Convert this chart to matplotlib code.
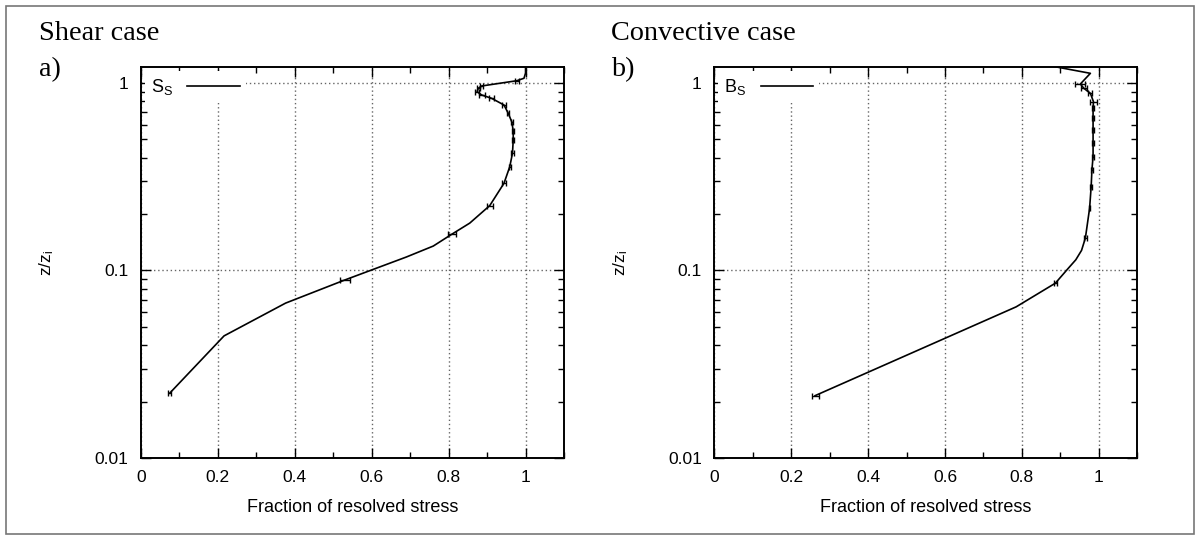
import numpy as np
import matplotlib
matplotlib.use("Agg")
import matplotlib.pyplot as plt
from matplotlib.patches import Rectangle
from matplotlib.ticker import MultipleLocator, LogLocator, NullFormatter

plt.rcParams['font.family'] = ['Liberation Sans', 'DejaVu Sans']
plt.rcParams['mathtext.default'] = 'regular'

# shear case (S_S): height z/zi, fraction of resolved stress, half-width of error bar
shear_z = [0.0222, 0.0448, 0.067, 0.089, 0.118, 0.135, 0.156, 0.179, 0.222, 0.292,
           0.358, 0.422, 0.497, 0.557, 0.622, 0.689, 0.763, 0.828, 0.863, 0.899,
           0.937, 0.964, 1.028, 1.06, 1.13, 1.25]
shear_frac = [0.075, 0.216, 0.376, 0.530, 0.690, 0.760, 0.808, 0.855, 0.907, 0.944,
              0.959, 0.966, 0.968, 0.968, 0.964, 0.955, 0.944, 0.912, 0.886, 0.874,
              0.877, 0.886, 0.977, 0.996, 1.0, 1.0]
shear_err = [0.004, 0.0, 0.0, 0.013, 0.0, 0.0, 0.010, 0.0, 0.008, 0.004,
             0.003, 0.003, 0.003, 0.003, 0.003, 0.003, 0.004, 0.006, 0.008, 0.006,
             0.004, 0.004, 0.005, 0.0, 0.0, 0.0]

# convective case (B_S)
conv_z = [0.0215, 0.064, 0.0856, 0.103, 0.114, 0.128, 0.149, 0.215, 0.28, 0.344,
          0.405, 0.48, 0.56, 0.65, 0.733, 0.795, 0.881, 0.937, 0.988, 1.126, 1.25]
conv_frac = [0.262, 0.785, 0.887, 0.921, 0.940, 0.955, 0.965, 0.976, 0.980, 0.982,
             0.985, 0.985, 0.985, 0.985, 0.985, 0.986, 0.978, 0.961, 0.952, 0.978, 0.86]
conv_err = [0.009, 0.0, 0.003, 0.0, 0.0, 0.0, 0.003, 0.002, 0.003, 0.003,
            0.003, 0.003, 0.003, 0.003, 0.003, 0.008, 0.005, 0.008, 0.013, 0.0, 0.0]

titles = ["Shear case", "Convective case"]
panels = ["a)", "b)"]
labels = ["S$_S$", "B$_S$"]
xticks = [0, 0.2, 0.4, 0.6, 0.8, 1.0]
xticklabels = ["0", "0.2", "0.4", "0.6", "0.8", "1"]
yticks = [0.01, 0.1, 1]
yticklabels = ["0.01", "0.1", "1"]

fig = plt.figure(figsize=(11.99, 5.39), dpi=100)
fig.add_artist(Rectangle((5.5 / 1199, 5.5 / 539), 1188 / 1199, 528 / 539,
                         transform=fig.transFigure, fill=False,
                         edgecolor='#777777', linewidth=1.2))

data = [(shear_z, shear_frac, shear_err), (conv_z, conv_frac, conv_err)]
lefts = [141 / 1199, 714.3 / 1199]
text_x = [39 / 1199, 611 / 1199]

for i, (z, frac, err) in enumerate(data):
    ax = fig.add_axes([lefts[i], 81 / 539, 423 / 1199, 391 / 539])
    z, frac, err = np.array(z), np.array(frac), np.array(err)
    ax.plot(frac, z, color='black', linewidth=1.2, label=labels[i])
    # only points that carry an error bar
    m = err > 0
    ax.errorbar(frac[m], z[m], xerr=err[m], fmt='none', ecolor='black',
                elinewidth=1.0, capsize=2.2, capthick=1.0)
    ax.set_yscale('log')
    ax.set_xlim(0, 1.1)
    ax.set_ylim(0.01, 1.217)

    ax.set_xticks(xticks)
    ax.set_xticklabels(xticklabels)
    ax.xaxis.set_minor_locator(MultipleLocator(0.1))
    ax.set_yticks(yticks)
    ax.set_yticklabels(yticklabels)
    ax.yaxis.set_minor_locator(LogLocator(base=10, subs=np.arange(2, 10)))
    ax.yaxis.set_minor_formatter(NullFormatter())
    ax.tick_params(which='both', direction='in', top=True, right=True,
                   labelsize=12.5, colors='black', width=1.0)
    ax.tick_params(which='major', length=7, pad=9)
    ax.tick_params(which='minor', length=4)
    for s in ax.spines.values():
        s.set_linewidth(1.4)

    ax.grid(True, which='major', linestyle=(0, (1, 2)), color='#666666',
            linewidth=1.0)
    ax.set_axisbelow(True)

    ax.set_xlabel("Fraction of resolved stress", fontsize=13, labelpad=10)
    ax.set_ylabel("$z/z_i$", fontsize=12.5)
    ax.yaxis.set_label_coords(-0.2, 0.5)

    leg = ax.legend(loc='upper left', markerfirst=False, fontsize=13,
                    handlelength=2.9, handletextpad=0.8, borderpad=0.35,
                    borderaxespad=0.2, fancybox=False, framealpha=1.0,
                    edgecolor='none', facecolor='white')
    leg.set_zorder(5)

    fig.text(text_x[i], 1 - 40 / 539, titles[i], family='Liberation Serif',
             fontsize=20.3, va='baseline', ha='left')
    fig.text(text_x[i], 1 - 76 / 539, panels[i], family='Liberation Serif',
             fontsize=20.3, va='baseline', ha='left')

fig.savefig("out.png", dpi=100)
